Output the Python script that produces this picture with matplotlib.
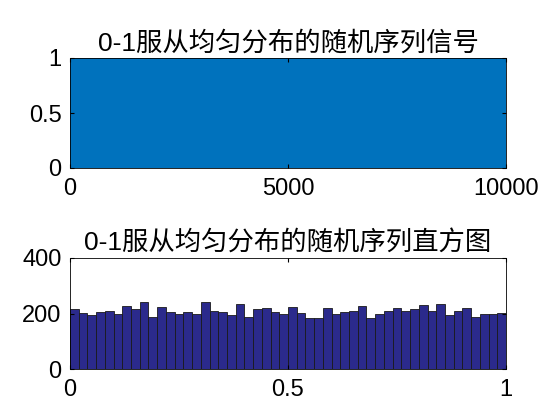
import matplotlib
matplotlib.use("Agg")
import matplotlib.pyplot as plt
import numpy as np

plt.rcParams['font.family'] = ['Liberation Sans', 'Noto Sans CJK SC', 'DejaVu Sans']

# Top: signal envelope (uniform 0-1 random sequence, 10000 samples)
sig_x = [1, 10000]
sig_low = [0.0, 0.0]
sig_high = [1.0, 1.0]

# Bottom: histogram counts, 50 bins over [0,1]
counts = [215, 203, 195, 207, 210, 200, 228, 215, 240, 186,
          225, 207, 200, 204, 200, 240, 209, 207, 195, 233,
          189, 216, 221, 204, 198, 222, 203, 185, 185, 221,
          198, 207, 209, 227, 185, 200, 210, 221, 209, 216,
          231, 210, 233, 195, 210, 221, 189, 200, 198, 203]
edges = np.linspace(0, 1, len(counts) + 1)

fig = plt.figure(figsize=(5.6, 4.2), dpi=100)
ax1 = fig.add_axes([70/560, 1-168/420, 436/560, 110/420])
ax1.fill_between(sig_x, sig_low, sig_high, color='#0072BD', lw=0)
ax1.set_xlim(0, 10000)
ax1.set_ylim(0, 1)
ax1.set_xticks([0, 5000, 10000])
ax1.set_yticks([0, 0.5, 1])
ax1.set_yticklabels(['0', '0.5', '1'])
ax1.set_title('0-1服从均匀分布的随机序列信号', fontsize=19, pad=5)

ax2 = fig.add_axes([70/560, 1-369/420, 436/560, 111/420])
ax2.bar(edges[:-1], counts, width=np.diff(edges), align='edge',
        color='#2B2A8C', edgecolor='#1a1a1a', lw=0.6)
ax2.set_xlim(0, 1)
ax2.set_ylim(0, 400)
ax2.set_xticks([0, 0.5, 1])
ax2.set_xticklabels(['0', '0.5', '1'])
ax2.set_yticks([0, 200, 400])
ax2.set_title('0-1服从均匀分布的随机序列直方图', fontsize=19, pad=5)

for ax in (ax1, ax2):
    ax.tick_params(labelsize=17, direction='in', length=3, top=True, right=True)
    ax.tick_params(axis='x', pad=7)
    ax.tick_params(axis='y', pad=6)
    for s in ax.spines.values():
        s.set_linewidth(0.6)

fig.savefig('out.png', dpi=100)
